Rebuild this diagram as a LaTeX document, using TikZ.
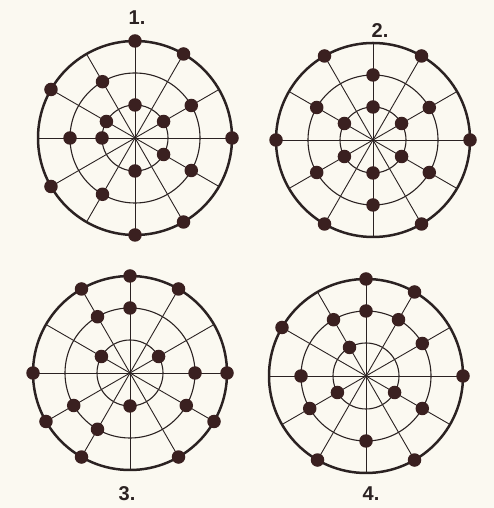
\documentclass[tikz,border=0pt]{standalone}
\usepackage{fontspec}
\setmainfont{Liberation Sans}
\definecolor{paper}{HTML}{FBF9F1}
\definecolor{ink}{HTML}{2B2222}
\definecolor{dotc}{HTML}{3A2020}
\newcommand\webdiagram[5]{%
  \begin{scope}[shift={#2}]
    \coordinate (#1-c) at (0,0);
    \foreach \a in {0,30,...,330} \draw[spoke] (#1-c) -- (\a:97);
    \draw[ring] (#1-c) circle[radius=33];
    \draw[ring] (#1-c) circle[radius=65];
    \draw[rim] (#1-c) circle[radius=97];
    \foreach \a in {#3} \node[dotnode] (#1-o\a) at (\a:97) {};
    \foreach \a in {#4} \node[dotnode] (#1-m\a) at (\a:65) {};
    \foreach \a in {#5} \node[dotnode] (#1-i\a) at (\a:33) {};
  \end{scope}}
\begin{document}
\begin{tikzpicture}[x=1pt,y=1pt,
  spoke/.style={draw=ink, line width=0.9pt},
  ring/.style={draw=ink, line width=1.1pt},
  rim/.style={draw=ink, line width=2.5pt},
  dotnode/.style={circle, fill=dotc, inner sep=0pt, minimum size=13.5pt},
  lbl/.style={font=\fontsize{20}{20}\selectfont\bfseries, text=ink, inner sep=0pt}]
\fill[paper] (0,0) rectangle (494,508);
\useasboundingbox (0,0) rectangle (494,508);

\webdiagram{a}{(135,370)}{90,60,0,150,210,270,300}{120,30,180,330,240}{90,150,30,180,330,270}
\webdiagram{b}{(373,368)}{60,120,180,240,300,0}{90,150,30,210,330,270}{90,150,30,210,330,270}
\webdiagram{c}{(130,135)}{90,60,120,180,0,210,330,240,300}{90,120,0,210,330,240}{150,30,270}
\webdiagram{d}{(366,132)}{90,60,150,0,240,300}{90,120,60,30,180,210,330,270}{120,210,330}

\node[lbl] (l1) at (137,490) {1.};
\node[lbl] (l2) at (380,477) {2.};
\node[lbl] (l3) at (127,14) {3.};
\node[lbl] (l4) at (371,14) {4.};
\end{tikzpicture}
\end{document}
